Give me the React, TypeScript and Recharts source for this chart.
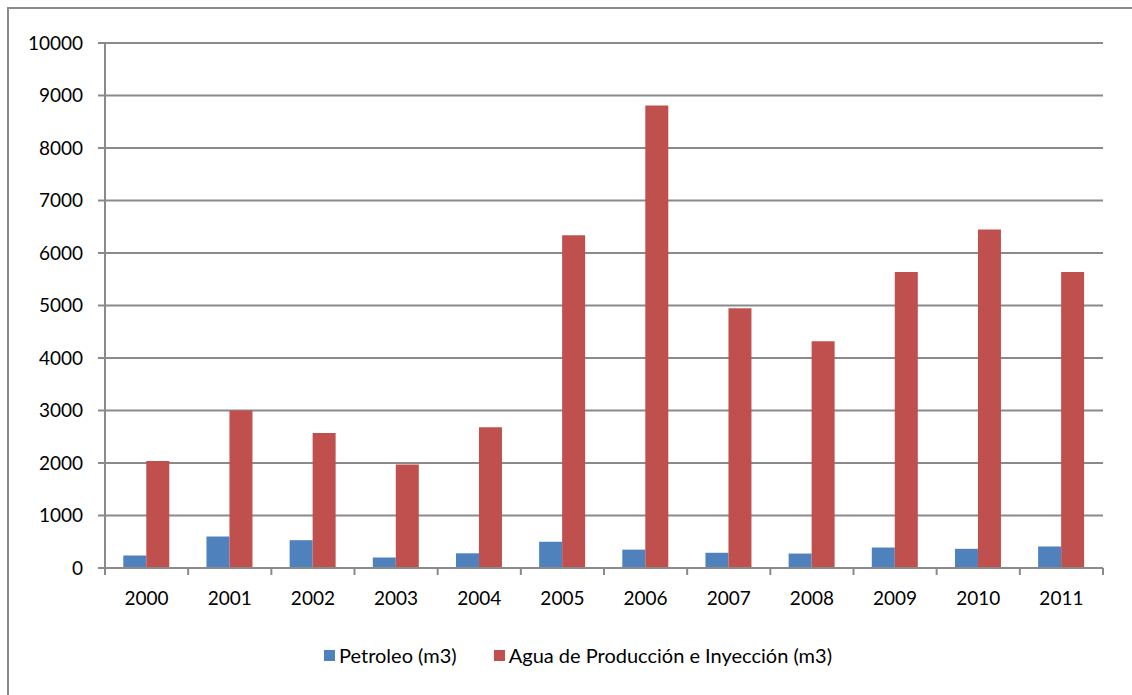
import { BarChart, Bar, XAxis, YAxis, CartesianGrid, Legend } from 'recharts'

const BLUE = '#4F81BD'
const RED = '#C0504D'
const GRID = '#8A8A8A'
const FONT = 'Lato, "Noto Sans", sans-serif'

const years = ['2000', '2001', '2002', '2003', '2004', '2005', '2006', '2007', '2008', '2009', '2010', '2011']
const petroleo = [240, 600, 530, 200, 280, 500, 350, 290, 275, 390, 365, 410]
const agua = [2040, 3000, 2570, 1970, 2680, 6340, 8810, 4950, 4320, 5640, 6450, 5640]
const yTicks = [0, 1000, 2000, 3000, 4000, 5000, 6000, 7000, 8000, 9000, 10000]

const W = 1132
const H = 695
const M = { top: 43, right: 29, left: 0, bottom: 63 }
const Y_W = 105
const HALF_BAND = (W - Y_W - M.right) / years.length / 2

const data = years.map((y, i) => ({ year: y, petroleo: petroleo[i], agua: agua[i] }))

function XTick(props: any) {
  const { x, y, payload, index } = props
  const axisY = y - 24
  return (
    <g>
      <line x1={x - HALF_BAND} x2={x - HALF_BAND} y1={axisY} y2={axisY + 7} stroke={GRID} strokeWidth={2} />
      {index === years.length - 1 && (
        <line x1={x + HALF_BAND} x2={x + HALF_BAND} y1={axisY} y2={axisY + 7} stroke={GRID} strokeWidth={2} />
      )}
      <text x={x} y={y} dy="0.71em" textAnchor="middle" fill="#000" fontSize={19} fontFamily={FONT}>
        {payload.value}
      </text>
    </g>
  )
}

function LegendBox() {
  const items = [
    { label: 'Petroleo (m3)', color: BLUE },
    { label: 'Agua de Producción e Inyección (m3)', color: RED },
  ]
  return (
    <div style={{ display: 'flex', justifyContent: 'center', gap: 37, fontFamily: FONT, fontSize: 20 }}>
      {items.map(it => (
        <div key={it.label} style={{ display: 'flex', alignItems: 'center' }}>
          <span style={{ width: 11, height: 11, background: it.color, marginRight: 4, display: 'inline-block' }} />
          <span style={{ color: '#000' }}>{it.label}</span>
        </div>
      ))}
    </div>
  )
}

export default function App() {
  return (
    <div style={{ position: 'fixed', left: 0, top: 0, width: W, height: H, overflow: 'hidden', background: '#fff' }}>
      <div style={{ position: 'absolute', left: 7, top: 7, width: 1300, height: 900, border: `2px solid ${GRID}` }} />
      <div style={{ position: 'absolute', left: 0, top: 0 }}>
        <BarChart width={W} height={H} data={data} margin={M} barCategoryGap="22%" barGap={0}>
          <CartesianGrid vertical={false} stroke={GRID} strokeWidth={2} />
          <XAxis
            dataKey="year"
            height={40}
            tickSize={0}
            tickMargin={24}
            axisLine={{ stroke: GRID, strokeWidth: 2 }}
            tick={<XTick />}
            interval={0}
          />
          <YAxis
            width={Y_W}
            domain={[0, 10000]}
            ticks={yTicks}
            interval={0}
            tickSize={7}
            tickMargin={15}
            axisLine={{ stroke: GRID, strokeWidth: 2 }}
            tickLine={{ stroke: GRID, strokeWidth: 2 }}
            tick={{ fill: '#000', fontSize: 19, fontFamily: FONT }}
          />
          <Legend
            content={<LegendBox />}
            wrapperStyle={{ position: 'absolute', left: 0, width: 1156, top: 643 }}
          />
          <Bar dataKey="petroleo" name="Petroleo (m3)" fill={BLUE} isAnimationActive={false} />
          <Bar dataKey="agua" name="Agua de Producción e Inyección (m3)" fill={RED} isAnimationActive={false} />
        </BarChart>
      </div>
    </div>
  )
}
